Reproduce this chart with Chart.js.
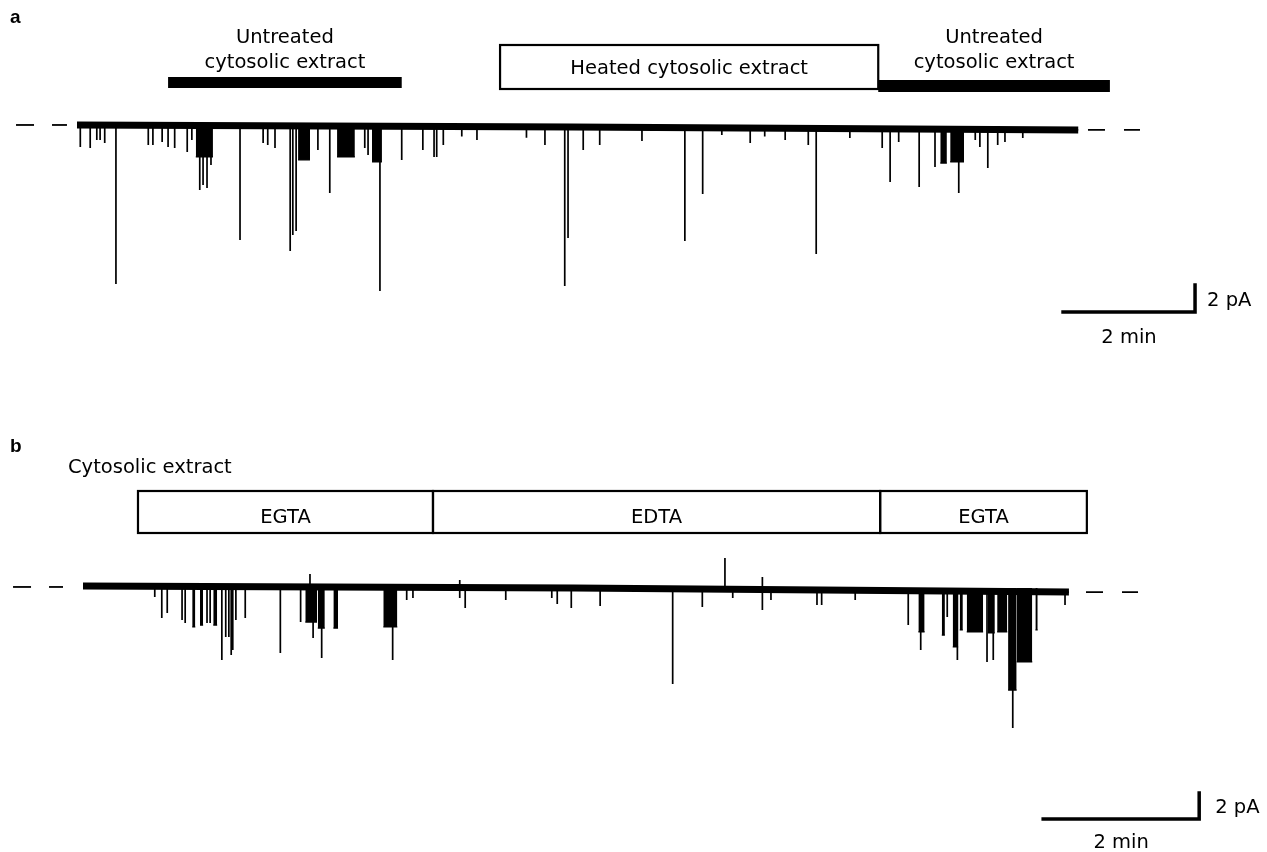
<!DOCTYPE html>
<html><head><meta charset="utf-8">
<script src="https://cdn.jsdelivr.net/npm/chart.js@4.4.0/dist/chart.umd.min.js"></script>
<style>
html,body{margin:0;padding:0;background:#fff;}
#wrap{position:relative;width:1267px;height:852px;overflow:hidden;background:#fff;}
canvas{position:absolute;left:0;}
</style></head><body>
<div id="wrap">
<canvas id="ca" style="top:0px;width:1267px;height:420px"></canvas>
<canvas id="cb" style="top:420px;width:1267px;height:432px"></canvas>
</div>
<script>
// ===================== DATA (time in min, current in pA) =====================
// Panel a: downward (opening) events [time, current]
const spikesA = [
 [0.05,-1.48],[0.20,-1.56],[0.30,-0.96],[0.35,-0.96],[0.42,-1.19],[0.59,-11.63],
 [1.08,-1.33],[1.15,-1.33],[1.29,-1.11],[1.38,-1.48],[1.48,-1.56],[1.67,-1.85],[1.74,-0.96],
 [1.86,-4.67],[1.91,-4.30],[1.97,-4.52],[2.03,-2.81],[2.47,-8.37],[2.82,-1.19],[2.89,-1.33],
 [3.00,-1.56],[3.23,-9.19],[3.27,-8.00],[3.32,-7.70],[3.65,-1.70],[3.83,-4.89],[4.36,-1.56],
 [4.41,-2.07],[4.59,-12.15],[4.92,-2.44],[5.24,-1.70],[5.41,-2.22],[5.45,-2.22],[5.55,-1.33],
 [5.83,-0.70],[6.06,-0.96],[6.81,-0.80],[7.09,-1.33],[7.39,-11.78],[7.44,-8.22],[7.67,-1.70],
 [7.92,-1.33],[8.56,-1.04],[9.21,-8.44],[9.48,-4.96],[9.77,-0.60],[10.20,-1.19],[10.42,-0.70],
 [10.73,-0.96],[11.08,-1.33],[11.20,-9.41],[11.71,-0.81],[12.20,-1.56],[12.32,-4.07],
 [12.45,-1.11],[12.76,-4.44],[13.00,-2.96],[13.36,-4.89],[13.61,-0.96],[13.68,-1.48],
 [13.80,-3.04],[13.95,-1.33],[14.06,-1.11],[14.33,-0.81]
];
// Panel a: bursts of flickering openings [start, end, current]
const burstsA = [
 [1.80,2.06,-2.22],[3.35,3.53,-2.44],[3.94,4.21,-2.22],[4.47,4.62,-2.59],
 [13.08,13.18,-2.67],[13.23,13.44,-2.59]
];
// Panel a: baseline drift [time, current]
const driftA = [[0,0.15],[7.5,0.0],[15.17,-0.22]];
// Panel a: treatments [label lines, start, end, kind]
const treatA = [
 [['Untreated','cytosolic extract'],1.38,4.92,'solid'],
 [['Heated cytosolic extract'],6.41,12.14,'box'],
 [['Untreated','cytosolic extract'],12.14,15.65,'solid']
];

// Panel b: downward events [time, current]
const spikesB = [
 [0.92,-0.69],[1.01,-2.31],[1.08,-1.92],[1.27,-2.46],[1.31,-2.69],[1.59,-2.69],[1.63,-2.69],
 [1.78,-5.54],[1.83,-3.77],[1.87,-3.77],[1.90,-5.15],[1.92,-4.77],[1.96,-2.46],[2.08,-2.31],
 [2.53,-5.00],[2.79,-2.62],[2.95,-3.85],[3.06,-5.38],[3.97,-5.54],[4.15,-0.92],[4.23,-0.77],
 [4.83,-0.77],[4.90,-1.54],[5.42,-0.92],[6.01,-0.77],[6.08,-1.23],[6.26,-1.54],[6.63,-1.38],
 [7.56,-7.38],[7.94,-1.46],[8.33,-0.77],[8.71,-1.69],[8.82,-0.92],[9.41,-1.31],[9.47,-1.31],
 [9.90,-0.92],[10.58,-2.85],[10.74,-4.77],[11.08,-2.23],[11.21,-5.54],[11.59,-5.69],
 [11.67,-5.54],[11.92,-10.77],[12.59,-1.31]
];
// Panel b: upward events [time, current]
const upB = [[2.91,1.08],[4.83,0.62],[8.23,2.31],[8.71,0.85]];
// Panel b: bursts [start, end, current]
const burstsB = [
 [1.40,1.44,-3.00],[1.50,1.54,-2.85],[1.67,1.72,-2.85],[2.85,3.00,-2.62],[3.01,3.10,-3.08],
 [3.21,3.27,-3.08],[3.85,4.03,-3.00],[10.71,10.79,-3.38],[11.01,11.05,-3.62],[11.15,11.22,-4.54],
 [11.24,11.28,-3.23],[11.33,11.54,-3.38],[11.60,11.69,-3.46],[11.72,11.85,-3.38],
 [11.86,11.97,-7.85],[11.97,12.17,-5.69],[12.21,12.24,-3.23]
];
const driftB = [[0,0.15],[6.3,0.0],[12.64,-0.31]];
const treatB = [
 [['EGTA'],0.705,4.487,'box'],
 [['EDTA'],4.487,10.22,'box'],
 [['EGTA'],10.22,12.87,'box']
];
// Scale bars: [minutes, pA]
const scaleBar = [2, 2];
const scaleLabels = ['2 min', '2 pA'];

// ===================== LAYOUT (pixels / styles) =====================
const FONT = '"DejaVu Sans", sans-serif';
const layoutA = {
  canvas:'ca', top:0, height:420, originX:77, originY:127, pxPerMin:66, pxPerPA:13.5,
  letter:'a', letterY:23, title:null,
  dashL:[-0.924,-0.152], dashR:[15.318,16.106], dashYL:0.15, dashYR:-0.22,
  rows:[ {top:77,bottom:88,text:[43,68]}, {top:45,bottom:89,text:[74]}, {top:80,bottom:92,text:[43,68]} ],
  scaleCorner:[16.94,-13.7], pALabelDX:12, pALabelDY:-6, minLabelDY:31
};
const layoutB = {
  canvas:'cb', top:420, height:432, originX:83, originY:588, pxPerMin:78, pxPerPA:13,
  letter:'b', letterY:452, title:['Cytosolic extract',68,473],
  dashL:[-0.897,-0.256], dashR:[12.859,13.526], dashYL:0.08, dashYR:-0.31,
  rows:[ {top:491,bottom:533,text:[523]}, {top:491,bottom:533,text:[523]}, {top:491,bottom:533,text:[523]} ],
  scaleCorner:[14.31,-17.77], pALabelDX:16, pALabelDY:-6, minLabelDY:29
};

function interp(drift, t){
  for(let i=0;i<drift.length-1;i++){
    const [t0,y0]=drift[i],[t1,y1]=drift[i+1];
    if(t<=t1) return y0+(y1-y0)*(t-t0)/(t1-t0);
  }
  return drift[drift.length-1][1];
}

function buildTrace(spikes, drift){
  const tEnd = drift[drift.length-1][0];
  const pts=[{x:0,y:interp(drift,0)}];
  spikes.slice().sort((a,b)=>a[0]-b[0]).forEach(([t,a])=>{
    const b=interp(drift,t);
    pts.push({x:t,y:b},{x:t,y:a},{x:t,y:b});
  });
  pts.push({x:tEnd,y:interp(drift,tEnd)});
  return pts;
}
function buildBursts(bursts){
  const pts=[];
  bursts.forEach(([t1,t2,a])=>{ pts.push({x:t1,y:a},{x:t2,y:a},{x:t2,y:null}); });
  return pts;
}

function decorPlugin(L, treat){
  return {
    id:'decor'+L.canvas,
    afterDatasetsDraw(chart){
      const ctx=chart.ctx, xs=chart.scales.x, ys=chart.scales.y, off=L.top;
      ctx.save();
      ctx.fillStyle='#000'; ctx.strokeStyle='#000';
      ctx.textBaseline='alphabetic';
      ctx.font='bold 19px "Liberation Sans", Arial, sans-serif';
      ctx.textAlign='left';
      ctx.fillText(L.letter, 10, L.letterY-off);
      ctx.font='19.5px '+FONT;
      if(L.title){ ctx.fillText(L.title[0], L.title[1], L.title[2]-off); }
      treat.forEach(([lines,s,e,kind],i)=>{
        const r=L.rows[i];
        const x1=xs.getPixelForValue(s), x2=xs.getPixelForValue(e);
        const y1=r.top-off, y2=r.bottom-off;
        if(kind==='solid'){ ctx.fillRect(x1,y1,x2-x1,y2-y1); }
        else { ctx.lineWidth=2.2; ctx.strokeRect(x1,y1,x2-x1,y2-y1); }
        ctx.textAlign='center';
        lines.forEach((txt,k)=>ctx.fillText(txt,(x1+x2)/2,r.text[k]-off));
      });
      // scale bars
      const [ct,ci]=L.scaleCorner;
      const cx=xs.getPixelForValue(ct), cy=ys.getPixelForValue(ci);
      const hx=xs.getPixelForValue(ct-scaleBar[0]);
      const vy=ys.getPixelForValue(ci+scaleBar[1]);
      ctx.lineWidth=3.5; ctx.lineCap='square';
      ctx.beginPath(); ctx.moveTo(hx,cy); ctx.lineTo(cx,cy); ctx.lineTo(cx,vy); ctx.stroke();
      ctx.textAlign='left';
      ctx.fillText(scaleLabels[1], cx+L.pALabelDX, cy+L.pALabelDY);
      ctx.textAlign='center';
      ctx.fillText(scaleLabels[0], (hx+cx)/2, cy+L.minLabelDY);
      ctx.restore();
    }
  };
}

function makeChart(L, spikes, ups, bursts, drift, treat){
  const cv=document.getElementById(L.canvas);
  cv.width=1267; cv.height=L.height;
  const xmin=-L.originX/L.pxPerMin, xmax=(1267-L.originX)/L.pxPerMin;
  const oy=L.originY-L.top;
  const ymax=oy/L.pxPerPA, ymin=-(L.height-oy)/L.pxPerPA;
  const events = spikes.concat(ups);
  new Chart(cv,{
    type:'line',
    data:{datasets:[
      {data:drift.map(([t,y])=>({x:t,y})), borderColor:'#000', borderWidth:7, pointRadius:0, fill:false},
      {data:buildTrace(events,drift), borderColor:'#000', borderWidth:1.7, pointRadius:0, fill:false, tension:0},
      {data:buildBursts(bursts), borderColor:'#000', backgroundColor:'#000', borderWidth:1.2, pointRadius:0, fill:'origin', spanGaps:false},
      {data:[{x:L.dashL[0],y:L.dashYL},{x:L.dashL[1],y:L.dashYL}], borderColor:'#000', borderWidth:1.8, borderDash:[18,18], pointRadius:0, fill:false},
      {data:[{x:L.dashR[0],y:L.dashYR},{x:L.dashR[1],y:L.dashYR}], borderColor:'#000', borderWidth:1.8, borderDash:[17,19], pointRadius:0, fill:false}
    ]},
    options:{
      responsive:false, animation:false, devicePixelRatio:1, events:[],
      layout:{padding:0},
      scales:{
        x:{type:'linear', min:xmin, max:xmax, display:false},
        y:{type:'linear', min:ymin, max:ymax, display:false}
      },
      plugins:{legend:{display:false}, tooltip:{enabled:false}}
    },
    plugins:[decorPlugin(L,treat)]
  });
}

makeChart(layoutA, spikesA, [], burstsA, driftA, treatA);
makeChart(layoutB, spikesB, upB, burstsB, driftB, treatB);
</script>
</body></html>
